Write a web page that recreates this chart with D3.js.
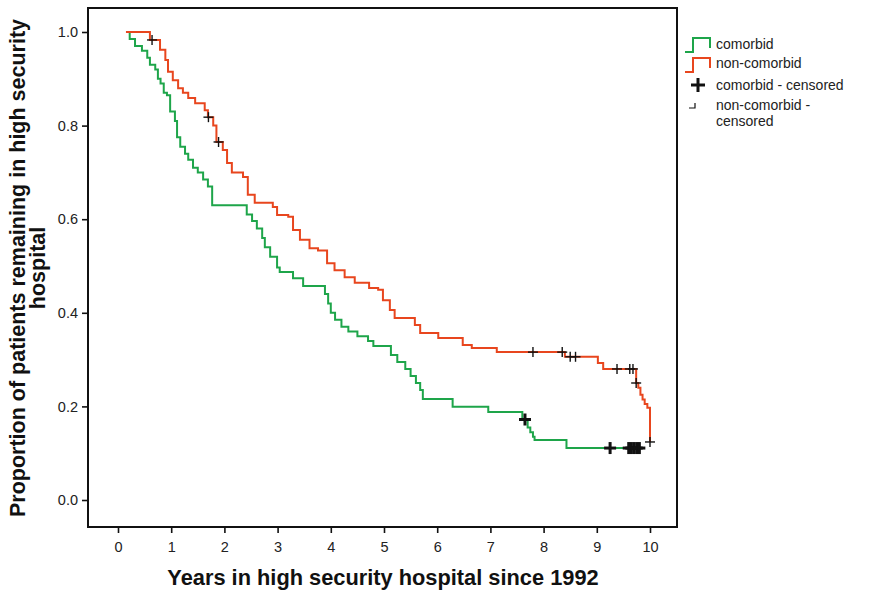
<!DOCTYPE html>
<html>
<head>
<meta charset="utf-8">
<script src="https://cdn.jsdelivr.net/npm/d3@7/dist/d3.min.js"></script>
<style>
  html, body { margin: 0; padding: 0; background: #fff; }
  svg { display: block; font-family: "Liberation Sans", Arial, sans-serif; }
</style>
</head>
<body>
<svg id="chart" width="870" height="592"></svg>
<script>
// Kaplan-Meier estimates: time (years) of each event and survival proportion after it
const comorbidStart = 0.15;
const comorbidTimes = [0.22, 0.32, 0.45, 0.55, 0.60, 0.70, 0.75, 0.80, 0.86, 0.92, 0.98, 1.07, 1.11, 1.17,
  1.26, 1.32, 1.41, 1.50, 1.60, 1.69, 1.77, 2.42, 2.52, 2.61, 2.71, 2.76, 2.86, 2.99, 3.04, 3.29, 3.48,
  3.89, 3.95, 4.00, 4.08, 4.20, 4.33, 4.50, 4.70, 4.80, 5.13, 5.25, 5.40, 5.50, 5.60, 5.68, 5.73,
  6.29, 6.96, 7.60, 7.70, 7.75, 7.80, 7.83, 8.43];
const comorbidSurv = [0.985, 0.97, 0.96, 0.945, 0.93, 0.92, 0.90, 0.89, 0.87, 0.865, 0.83, 0.81, 0.775, 0.755,
  0.74, 0.727, 0.71, 0.70, 0.685, 0.67, 0.63, 0.61, 0.596, 0.58, 0.56, 0.54, 0.52, 0.497, 0.487, 0.474, 0.457,
  0.44, 0.42, 0.40, 0.385, 0.37, 0.36, 0.35, 0.34, 0.329, 0.31, 0.295, 0.28, 0.265, 0.25, 0.235, 0.216,
  0.199, 0.188, 0.172, 0.155, 0.145, 0.135, 0.128, 0.111];
const comorbidEnd = 9.83;
const comorbidCensored = [7.65, 9.25, 9.60, 9.65, 9.70, 9.75, 9.80];

const nonComorbidStart = 0.15;
const nonComorbidTimes = [0.60, 0.79, 0.89, 0.94, 1.03, 1.13, 1.22, 1.32, 1.45, 1.63, 1.69, 1.79, 1.85, 1.97,
  2.05, 2.14, 2.35, 2.44, 2.57, 2.91, 2.99, 3.20, 3.29, 3.42, 3.60, 3.76, 3.93, 4.07, 4.26, 4.45, 4.72,
  4.89, 4.98, 5.11, 5.20, 5.58, 5.68, 6.02, 6.48, 6.65, 7.12, 8.40, 9.02, 9.12, 9.74, 9.78, 9.82, 9.86,
  9.90, 9.95, 10.00];
const nonComorbidSurv = [0.983, 0.962, 0.94, 0.915, 0.897, 0.88, 0.87, 0.859, 0.848, 0.833, 0.818, 0.80, 0.765, 0.748,
  0.72, 0.70, 0.69, 0.652, 0.635, 0.626, 0.609, 0.605, 0.577, 0.556, 0.538, 0.533, 0.506, 0.491, 0.476, 0.464, 0.453,
  0.449, 0.427, 0.406, 0.389, 0.374, 0.357, 0.346, 0.331, 0.325, 0.316, 0.306, 0.293, 0.28, 0.25, 0.24, 0.225, 0.215,
  0.205, 0.197, 0.124];
const nonComorbidEnd = 10.0;
const nonComorbidCensored = [0.64, 1.70, 1.89, 7.80, 8.35, 8.50, 8.60, 9.38, 9.62, 9.68, 9.74, 10.0];

const xTicks = [0, 1, 2, 3, 4, 5, 6, 7, 8, 9, 10];
const yTicks = [0.0, 0.2, 0.4, 0.6, 0.8, 1.0];

const legendLabels = ["comorbid", "non-comorbid", "comorbid - censored", ["non-comorbid -", "censored"]];

const green = "#1ea54a";
const red = "#e8461e";

const svg = d3.select("#chart");
const frame = { left: 88, top: 8, right: 677, bottom: 527 };

const x = d3.scaleLinear().domain([0, 10]).range([118, 650]);
const y = d3.scaleLinear().domain([0, 1]).range([500, 32]);

// Plot frame
svg.append("rect")
  .attr("x", frame.left).attr("y", frame.top)
  .attr("width", frame.right - frame.left).attr("height", frame.bottom - frame.top)
  .attr("fill", "none").attr("stroke", "#111").attr("stroke-width", 2);

// Axes
const yAxis = d3.axisLeft(y).tickValues(yTicks).tickFormat(d3.format(".1f")).tickSize(6).tickPadding(4);
const gy = svg.append("g").attr("transform", `translate(${frame.left},0)`).call(yAxis);
gy.select(".domain").remove();

const xAxis = d3.axisBottom(x).tickValues(xTicks).tickFormat(d3.format("d")).tickSize(6).tickPadding(9);
const gx = svg.append("g").attr("transform", `translate(0,${frame.bottom})`).call(xAxis);
gx.select(".domain").remove();

[gx, gy].forEach(g => {
  g.selectAll(".tick line").attr("stroke", "#111").attr("stroke-width", 1.6);
  g.selectAll(".tick text").attr("fill", "#222").style("font-size", "14.5px")
    .style("font-family", "'Liberation Sans', Arial, sans-serif");
});

// Axis titles
svg.append("text")
  .attr("x", 383).attr("y", 585)
  .attr("text-anchor", "middle")
  .style("font-size", "21.8px").style("font-weight", "bold").attr("fill", "#111")
  .text("Years in high security hospital since 1992");

const yTitle = svg.append("g").attr("transform", "translate(25,268) rotate(-90)");
yTitle.append("text").attr("x", 0).attr("y", 0).attr("text-anchor", "middle")
  .style("font-size", "21.5px").style("font-weight", "bold").attr("fill", "#111")
  .text("Proportion of patients remaining in high security");
yTitle.append("text").attr("x", 0).attr("y", 20).attr("text-anchor", "middle")
  .style("font-size", "21.5px").style("font-weight", "bold").attr("fill", "#111")
  .text("hospital");

// Build step-function points
function stepPoints(start, times, surv, end) {
  const pts = [{ t: start, p: 1 }];
  times.forEach((t, i) => pts.push({ t: t, p: surv[i] }));
  pts.push({ t: end, p: surv[surv.length - 1] });
  return pts;
}
function survivalAt(times, surv, t) {
  let p = 1;
  for (let i = 0; i < times.length; i++) if (times[i] <= t + 1e-9) p = surv[i];
  return p;
}

const line = d3.line().x(d => x(d.t)).y(d => y(d.p)).curve(d3.curveStepAfter);

const comorbidPts = stepPoints(comorbidStart, comorbidTimes, comorbidSurv, comorbidEnd);
const nonComorbidPts = stepPoints(nonComorbidStart, nonComorbidTimes, nonComorbidSurv, nonComorbidEnd);

svg.append("path").datum(comorbidPts).attr("d", line)
  .attr("fill", "none").attr("stroke", green).attr("stroke-width", 2);
svg.append("path").datum(nonComorbidPts).attr("d", line)
  .attr("fill", "none").attr("stroke", red).attr("stroke-width", 2);

// Censored observations
function cross(g, cx, cy, half, width) {
  g.append("line").attr("x1", cx - half).attr("x2", cx + half).attr("y1", cy).attr("y2", cy)
    .attr("stroke", "#111").attr("stroke-width", width);
  g.append("line").attr("x1", cx).attr("x2", cx).attr("y1", cy - half).attr("y2", cy + half)
    .attr("stroke", "#111").attr("stroke-width", width);
}
const censorG = svg.append("g");
comorbidCensored.forEach(t => cross(censorG, x(t), y(survivalAt(comorbidTimes, comorbidSurv, t)), 6, 3));
nonComorbidCensored.forEach(t => cross(censorG, x(t), y(survivalAt(nonComorbidTimes, nonComorbidSurv, t)), 5, 1.4));

// Legend
const lg = svg.append("g");
function stepIcon(ox, oy, color) {
  lg.append("path")
    .attr("d", `M${ox},${oy + 14} H${ox + 8} V${oy} H${ox + 25} V${oy + 10}`)
    .attr("fill", "none").attr("stroke", color).attr("stroke-width", 2);
}
stepIcon(685, 38, green);
stepIcon(685, 58, red);
cross(lg, 698, 85, 7, 3);
lg.append("path").attr("d", "M689,108 H695 V103").attr("fill", "none").attr("stroke", "#111").attr("stroke-width", 1.2);

const legendText = (tx, ty, s) => lg.append("text").attr("x", tx).attr("y", ty)
  .style("font-size", "14px").attr("fill", "#222").text(s);
legendText(716, 49, legendLabels[0]);
legendText(716, 68, legendLabels[1]);
legendText(716, 90, legendLabels[2]);
legendText(716, 110, legendLabels[3][0]);
legendText(716, 126, legendLabels[3][1]);
</script>
</body>
</html>
